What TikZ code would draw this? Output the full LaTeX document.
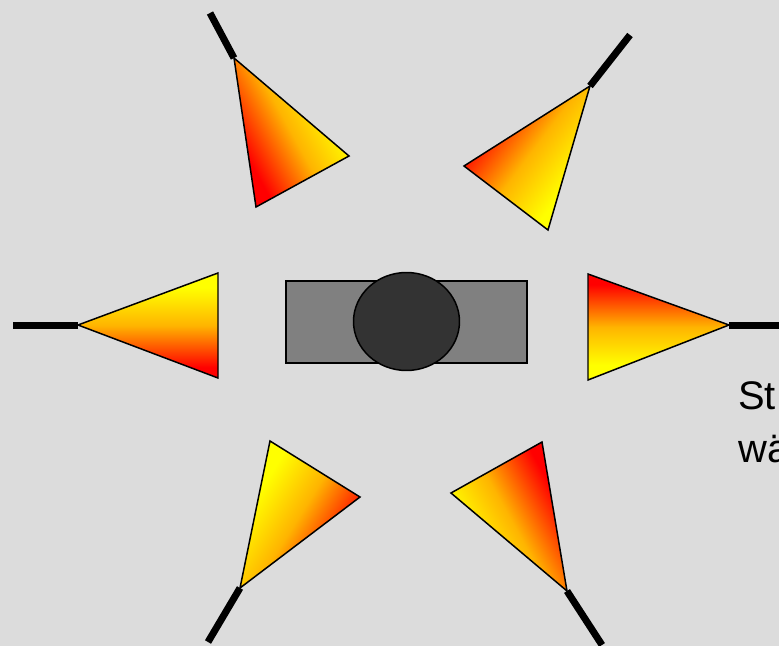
\documentclass[tikz,border=0pt]{standalone}
\usepackage{fontspec}
\setmainfont{Liberation Sans}
\usetikzlibrary{shapes.geometric}
\definecolor{bggrey}{RGB}{220,220,220}
\definecolor{bodygrey}{RGB}{128,128,128}
\definecolor{hubgrey}{RGB}{51,51,51}
\definecolor{hornmid}{RGB}{255,180,0}
\pgfdeclareverticalshading{hornshade}{100bp}{color(0bp)=(red); color(30bp)=(red); color(50bp)=(hornmid); color(68bp)=(yellow); color(100bp)=(yellow)}

\begin{document}
\begin{tikzpicture}[x=0.02cm,y=-0.02cm,
    horn/.style={draw=black, line width=0.85pt, shading=hornshade},
    stem/.style={line width=0.14cm}]
    \fill[bggrey] (0,0) rectangle (779,646);
    \useasboundingbox (0,0) rectangle (779,646);
    \clip (0,0) rectangle (779,646);
    % centre unit
    \node[draw=black, fill=bodygrey, line width=0.85pt, minimum width=4.82cm, minimum height=1.64cm, inner sep=0pt] (body) at (406.5,322) {};
    \node[draw=black, fill=hubgrey, line width=0.85pt, ellipse, minimum width=2.12cm, minimum height=1.96cm, inner sep=0pt] (hub) at (406.5,321.5) {};
    % horns
    \coordinate (tl) at (234,58);  \coordinate (tlend) at (210,13);
    \coordinate (tr) at (590,86);  \coordinate (trend) at (630,35);
    \coordinate (ml) at (78,325);  \coordinate (mlend) at (13,325);
    \coordinate (mr) at (729,325); \coordinate (mrend) at (785,325);
    \coordinate (bl) at (240,588); \coordinate (blend) at (208,642);
    \coordinate (br) at (567,591); \coordinate (brend) at (602,645);
    \shadedraw[horn, shading angle=-61] (tl) -- (349,156) -- (256,207) -- cycle;
    \shadedraw[horn, shading angle=-127] (tr) -- (464,166) -- (548,230) -- cycle;
    \shadedraw[horn, shading angle=0] (ml) -- (218,273) -- (218,378) -- cycle;
    \shadedraw[horn, shading angle=180] (mr) -- (588,274) -- (588,380) -- cycle;
    \shadedraw[horn, shading angle=58] (bl) -- (270,441) -- (360,497) -- cycle;
    \shadedraw[horn, shading angle=119] (br) -- (451,493) -- (542,442) -- cycle;
    \draw[stem] (tl) -- (tlend);
    \draw[stem] (tr) -- (trend);
    \draw[stem] (ml) -- (mlend);
    \draw[stem] (mr) -- (mrend);
    \draw[stem] (bl) -- (blend);
    \draw[stem] (br) -- (brend);
    % label
    \node[anchor=base west, align=left, inner sep=0pt, font=\fontsize{22.7pt}{30pt}\selectfont] (note) at (738,462) {St\\wä};
\end{tikzpicture}
\end{document}
